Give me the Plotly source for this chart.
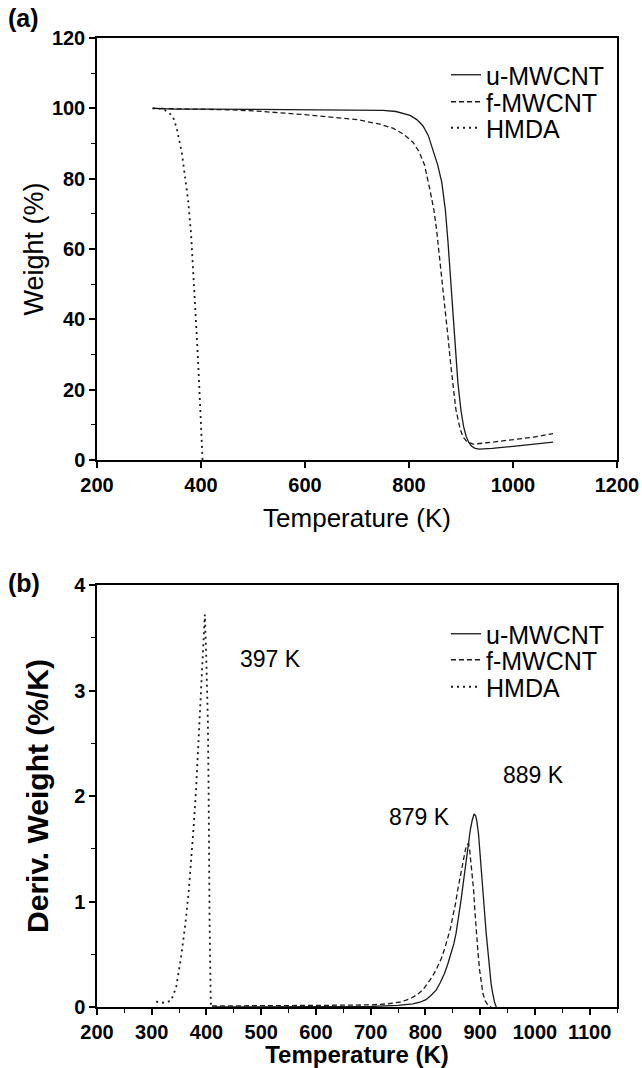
import plotly.graph_objects as go

# ---------------- data ----------------
# (a) TGA curves: temperature (K) and weight (%)
u_tga_T = [307, 320, 350, 400, 500, 600, 700, 750, 775, 790, 802, 815, 827, 837, 846, 855, 863, 870, 875, 880, 885, 890, 894, 900, 905, 910, 915, 920, 927, 935, 960, 1000, 1040, 1077]
u_tga_W = [100, 99.9, 99.8, 99.8, 99.7, 99.6, 99.5, 99.4, 99.1, 98.6, 98.0, 96.8, 95.0, 92.3, 88.4, 84.0, 79.0, 71.0, 62.0, 51.5, 40.5, 30.5, 22.0, 14.0, 9.5, 6.7, 5.0, 4.0, 3.3, 3.1, 3.3, 3.9, 4.5, 5.1]

f_tga_T = [307, 350, 400, 450, 500, 550, 600, 650, 700, 744, 770, 790, 808, 820, 830, 840, 848, 853, 859, 865, 870, 875, 880, 885, 890, 898, 904, 911, 918, 923, 950, 1000, 1040, 1077]
f_tga_W = [100, 99.9, 99.8, 99.6, 99.3, 98.8, 98.2, 97.5, 96.8, 95.5, 94.3, 92.6, 90.3, 87.5, 83.8, 77.0, 71.0, 65.5, 57.5, 49.0, 42.0, 35.0, 27.5, 20.5, 14.5, 9.0, 6.5, 5.3, 4.7, 4.5, 4.9, 5.7, 6.5, 7.5]

h_tga_T = [307, 320, 330, 338, 346, 353, 363, 369, 375.6, 381, 385, 388.5, 391.7, 395, 398, 400, 402.5, 403]
h_tga_W = [100, 99.9, 99.5, 98.8, 97.6, 94.5, 87.5, 81.0, 73.4, 64.0, 54.5, 45.0, 35.7, 26.3, 17.0, 7.4, 1.8, 0]

# (b) DTG curves: temperature (K) and derivative weight (%/K)
u_dtg_T = [410, 500, 600, 700, 750, 777, 790, 801, 810, 819.6, 827, 835, 841, 847, 852, 856, 861, 865, 869, 873, 876, 879, 882, 885.5, 889, 892, 894, 897, 899, 902, 905, 908, 911, 914, 917, 920, 923, 926, 929.5]
u_dtg_V = [0.0, 0.0, 0.0, 0.005, 0.015, 0.03, 0.045, 0.07, 0.11, 0.16, 0.23, 0.32, 0.41, 0.51, 0.60, 0.70, 0.85, 1.01, 1.17, 1.33, 1.46, 1.58, 1.68, 1.77, 1.83, 1.81, 1.76, 1.64, 1.52, 1.32, 1.11, 0.90, 0.70, 0.52, 0.35, 0.22, 0.13, 0.05, 0.0]

f_dtg_T = [410, 500, 600, 700, 730, 752, 765, 776, 786, 795, 804, 813, 821, 829, 835, 841, 846, 850, 855, 859, 863, 867, 870, 873, 876, 879, 881, 883.7, 886, 888, 890.5, 893, 896, 899, 902, 905, 909, 914, 920]
f_dtg_V = [0.01, 0.01, 0.015, 0.02, 0.03, 0.045, 0.065, 0.09, 0.12, 0.16, 0.22, 0.29, 0.37, 0.46, 0.55, 0.65, 0.75, 0.86, 0.98, 1.11, 1.22, 1.33, 1.42, 1.49, 1.54, 1.55, 1.48, 1.36, 1.23, 1.11, 0.90, 0.70, 0.52, 0.35, 0.22, 0.13, 0.06, 0.02, 0.0]

h_dtg_T = [308, 323, 335.5, 344.7, 353.8, 361.7, 367.8, 373, 377, 381, 384, 387, 390.5, 393.4, 397, 399.6, 402.6, 403.9, 404.5, 405.7, 407.5, 408, 410]
h_dtg_V = [0.05, 0.04, 0.06, 0.19, 0.48, 0.80, 1.11, 1.42, 1.74, 2.06, 2.37, 2.69, 3.00, 3.32, 3.72, 3.32, 2.69, 2.06, 1.42, 0.80, 0.16, 0.02, 0.01]

series_names = ["u-MWCNT", "f-MWCNT", "HMDA"]
peak_labels = ["397 K", "889 K", "879 K"]
peak_label_T = [517, 997, 790]
peak_label_V = [3.3, 2.2, 1.8]

# ---------------- styling ----------------
FONT = "Liberation Sans, Arial, sans-serif"
styles = [
    dict(color="#1a1a1a", width=1.3, dash="solid"),
    dict(color="#1a1a1a", width=1.3, dash="5px,3px"),
    dict(color="#1a1a1a", width=1.8, dash="2px,4px"),
]

W, H = 642, 1068
def px_x(p):
    return p / W
def px_y(p):
    return 1 - p / H

fig = go.Figure()
tga = [(u_tga_T, u_tga_W), (f_tga_T, f_tga_W), (h_tga_T, h_tga_W)]
dtg = [(u_dtg_T, u_dtg_V), (f_dtg_T, f_dtg_V), (h_dtg_T, h_dtg_V)]
top_leg_y = [75, 102, 128]
bot_leg_y = [634, 660, 687]
legends = {}
for i, ((x, y), name, st) in enumerate(zip(tga, series_names, styles)):
    lg = "legend" if i == 0 else "legend%d" % (i + 1)
    fig.add_trace(go.Scatter(x=x, y=y, mode="lines", name=name, line=st,
                             xaxis="x", yaxis="y", legend=lg))
    legends[lg] = top_leg_y[i]
for i, ((x, y), name, st) in enumerate(zip(dtg, series_names, styles)):
    lg = "legend%d" % (i + 4)
    fig.add_trace(go.Scatter(x=x, y=y, mode="lines", name=name, line=st,
                             xaxis="x2", yaxis="y2", legend=lg))
    legends[lg] = bot_leg_y[i]

xdom = [px_x(97), px_x(617)]
axis_common = dict(showline=True, linecolor="black", linewidth=1.5, mirror=True,
                   ticks="outside", ticklen=6, tickwidth=1.5, tickcolor="black",
                   showgrid=False, zeroline=False, automargin=False,
                   tickfont=dict(family=FONT, size=20, color="black", weight="bold"))

fig.update_layout(
    width=W, height=H,
    margin=dict(l=0, r=0, t=0, b=0, autoexpand=False),
    paper_bgcolor="white", plot_bgcolor="white",
    font=dict(family=FONT, color="black"),
    xaxis=dict(domain=xdom, range=[200, 1200], dtick=200, anchor="y",
               title=dict(text="Temperature (K)", font=dict(size=26, family=FONT), standoff=14),
               **axis_common),
    yaxis=dict(domain=[px_y(460), px_y(38)], range=[0, 120], dtick=20, anchor="x",
               minor=dict(dtick=10, ticks="outside", ticklen=4, tickwidth=1.2, tickcolor="black"),
               title=dict(text="Weight (%)", font=dict(size=27, family=FONT), standoff=0),
               **axis_common),
    xaxis2=dict(domain=xdom, range=[200, 1150], dtick=100, anchor="y2",
                minor=dict(dtick=50, ticks="outside", ticklen=4, tickwidth=1.2, tickcolor="black"),
                title=dict(text="Temperature (K)", font=dict(size=24, family=FONT, weight="bold"), standoff=9),
                **axis_common),
    yaxis2=dict(domain=[px_y(1007), px_y(585)], range=[0, 4], dtick=1, anchor="x2",
                minor=dict(dtick=0.5, ticks="outside", ticklen=4, tickwidth=1.2, tickcolor="black"),
                title=dict(text="Deriv. Weight (%/K)", font=dict(size=30, family=FONT, weight="bold"), standoff=17),
                **axis_common),
    showlegend=True,
)
leg_layout = {}
for lg, ypx in legends.items():
    leg_layout[lg] = dict(x=px_x(446), y=px_y(ypx), xanchor="left", yanchor="middle",
                          bgcolor="rgba(0,0,0,0)", font=dict(size=25, family=FONT, color="black"),
                          itemwidth=30)
fig.update_layout(**leg_layout)

for txt, tx, ty in zip(peak_labels, peak_label_T, peak_label_V):
    fig.add_annotation(x=tx, y=ty, xref="x2", yref="y2", text=txt, showarrow=False,
                       font=dict(size=23, family=FONT, color="black"))

fig.add_annotation(x=px_x(6), y=px_y(18), xref="paper", yref="paper", text="(a)",
                   showarrow=False, xanchor="left", yanchor="middle",
                   font=dict(size=25, family=FONT, color="black", weight="bold"))
fig.add_annotation(x=px_x(6), y=px_y(583), xref="paper", yref="paper", text="(b)",
                   showarrow=False, xanchor="left", yanchor="middle",
                   font=dict(size=25, family=FONT, color="black", weight="bold"))

fig.write_html("out.html")
